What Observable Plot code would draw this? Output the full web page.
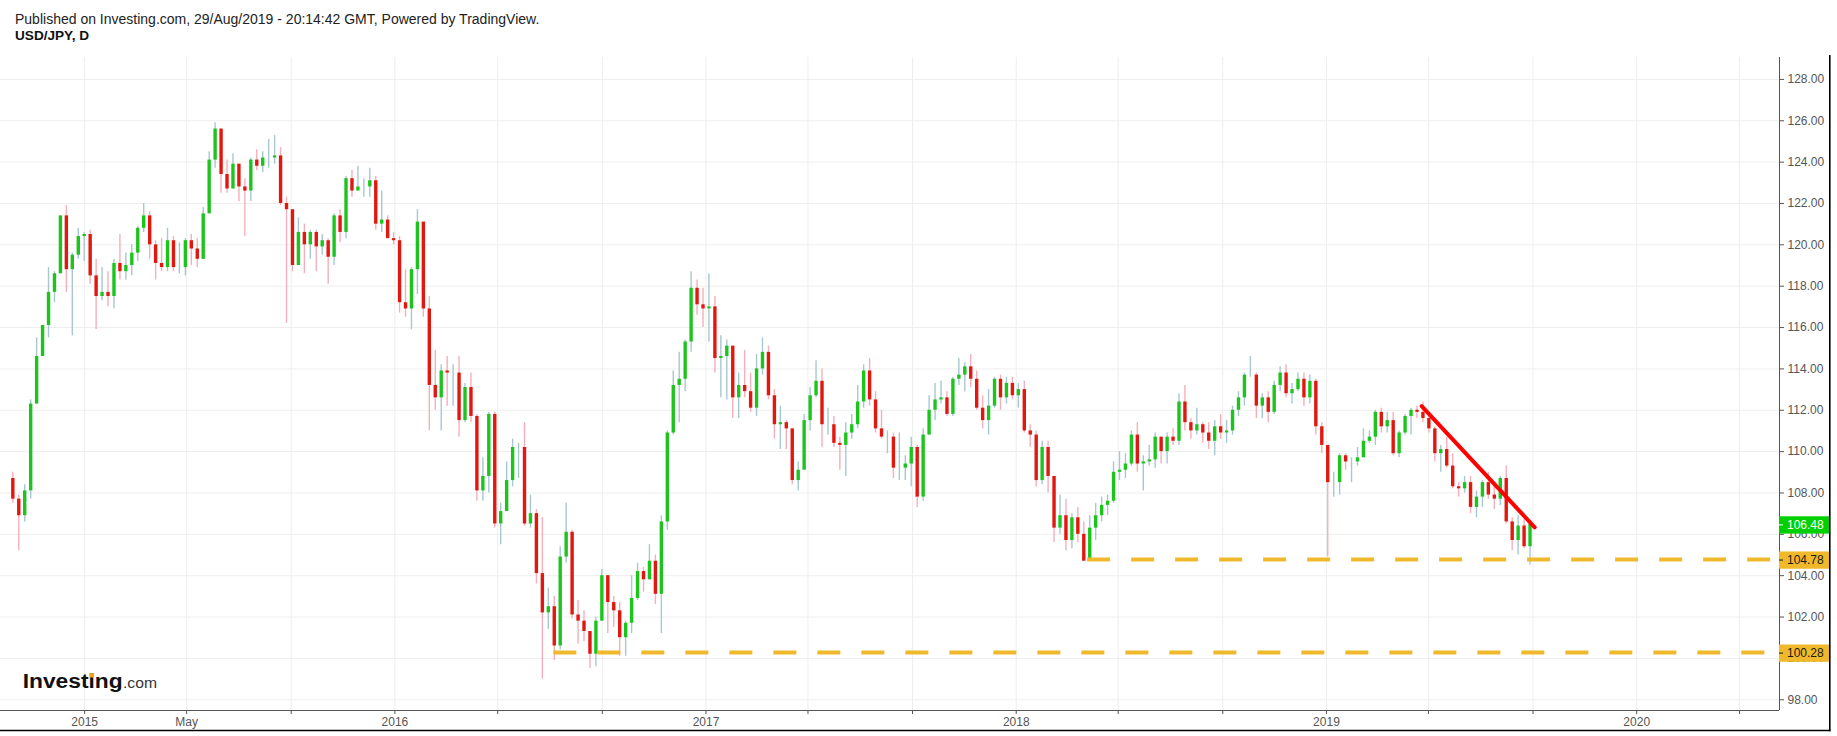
<!DOCTYPE html>
<html>
<head>
<meta charset="utf-8">
<script src="https://cdn.jsdelivr.net/npm/d3@7"></script>
<script src="https://cdn.jsdelivr.net/npm/@observablehq/plot@0.6"></script>
<style>
  html, body { margin: 0; padding: 0; background: #fff; }
  #wrap { position: relative; width: 1837px; height: 736px; overflow: hidden; font-family: "Liberation Sans", Arial, sans-serif; }
  #chart { position: absolute; left: 0; top: 0; }
  .hdr { position: absolute; left: 15px; font-size: 14px; line-height: 16px; color: #222; white-space: nowrap; }
</style>
</head>
<body>
<div id="wrap">
  <div id="chart"></div>
  <div class="hdr" style="top:11px">Published on Investing.com, 29/Aug/2019 - 20:14:42 GMT, Powered by TradingView.</div>
  <div class="hdr" style="top:28px;font-weight:bold;color:#111;font-size:13.6px">USD/JPY, D</div>
</div>
<script>
// ---------------- data (weekly candles) ----------------
const firstWeekStart = "2014-10-06";
const firstOpen = 108.7;

const weekClose = [
  // 2014 (Oct 6 .. Dec 29)
  107.7, 106.9, 108.1, 112.3, 114.6, 116.1, 117.7, 118.6, 121.4, 118.8, 119.5, 120.4, 120.5,
  // 2015
  118.5, 117.5, 117.7, 117.5, 119.1, 118.7, 119.0, 119.6, 120.8, 121.4, 120.0, 119.1, 118.9,
  120.2, 118.9, 118.9, 120.2, 119.8, 119.3, 121.5, 124.1, 125.6, 123.4, 122.7, 123.9, 122.8,
  122.6, 124.1, 123.8, 124.2, 124.2, 124.3, 122.0, 121.7, 119.0, 120.6, 120.0, 120.6, 119.9,
  120.2, 119.4, 121.4, 120.6, 123.2, 122.6, 122.8, 122.8, 123.1, 121.0, 121.2, 120.3, 120.2,
  // 2016
  117.2, 116.9, 118.8, 121.1, 116.9, 113.2, 112.6, 113.9, 113.8, 113.8, 111.5, 113.1, 111.7,
  108.1, 108.8, 111.8, 106.5, 107.1, 108.6, 110.2, 110.2, 106.5, 107.0, 104.1, 102.2, 102.5,
  100.6, 104.9, 106.1, 102.1, 101.8, 101.3, 100.2, 101.8, 104.0, 102.7, 102.3, 101.0, 101.7,
  102.9, 104.2, 103.8, 104.7, 103.1, 106.6, 110.9, 113.2, 113.5, 115.3, 117.9, 117.1, 116.9,
  // 2017
  117.0, 114.5, 114.6, 115.1, 112.6, 113.2, 112.9, 112.1, 114.0, 114.8, 112.7, 111.3, 111.4,
  111.1, 108.6, 109.1, 111.5, 112.7, 113.4, 111.3, 111.3, 110.4, 110.3, 110.9, 111.3, 112.4,
  113.9, 112.5, 111.1, 110.7, 110.7, 109.2, 109.2, 109.4, 110.2, 107.8, 110.8, 112.0, 112.5,
  112.6, 111.8, 113.5, 113.7, 114.1, 113.5, 112.1, 111.5, 112.2, 113.5, 112.6, 113.3, 112.7,
  // 2018
  113.0, 111.0, 110.8, 108.6, 110.2, 108.8, 106.3, 106.9, 105.7, 106.8, 106.0, 104.7, 106.3,
  106.9, 107.4, 107.6, 109.0, 109.1, 109.4, 110.8, 109.4, 109.5, 109.6, 110.7, 110.0, 110.7,
  110.5, 112.4, 111.4, 111.0, 111.3, 110.9, 110.5, 111.2, 110.9, 111.0, 112.0, 112.6, 113.7,
  113.7, 112.2, 112.6, 111.9, 113.2, 113.8, 112.8, 113.0, 113.5, 112.6, 113.4, 111.2, 110.3, 108.5,
  // 2019 (Jan 7 .. Aug 26)
  108.5, 109.8, 109.5, 109.5, 109.7, 110.5, 110.7, 111.9, 111.2, 111.5, 109.9, 110.9,
  111.7, 112.0, 111.9, 111.6, 111.1, 109.9, 110.1, 109.3, 108.3, 108.2, 108.5, 107.3, 107.8,
  108.5, 107.9, 107.7, 108.7, 106.6, 105.7, 106.4, 105.4, 106.48
];

const weekHigh = [
  // 2014
  109.0, 107.9, 108.4, 112.5, 115.5, 116.1, 118.9, 118.7, 121.4, 121.9, 119.6, 120.8, 120.6,
  // 2015
  120.7, 119.3, 118.9, 118.7, 119.3, 120.5, 119.6, 120.0, 120.9, 122.0, 121.6, 120.2, 120.3,
  120.8, 120.4, 120.1, 120.3, 120.5, 120.3, 121.8, 124.5, 125.9, 125.0, 124.1, 124.4, 123.9,
  123.2, 124.2, 124.6, 124.5, 125.1, 125.3, 124.7, 122.3, 121.7, 121.3, 121.0, 120.7, 120.7,
  120.5, 120.3, 121.5, 121.7, 123.3, 123.6, 123.8, 123.2, 123.7, 123.3, 122.6, 121.4, 120.6,
  // 2016
  120.4, 118.8, 118.9, 121.7, 121.0, 117.5, 114.9, 114.2, 114.6, 114.2, 114.6, 113.3, 113.8,
  111.8, 109.7, 111.9, 111.9, 107.5, 109.5, 110.6, 110.4, 111.4, 107.9, 107.2, 106.8, 103.4,
  103.0, 105.4, 107.5, 106.2, 102.8, 102.3, 101.3, 102.0, 104.3, 104.0, 103.0, 102.7, 101.8,
  104.0, 104.6, 104.4, 105.5, 105.0, 106.9, 111.0, 113.9, 114.8, 115.4, 118.7, 118.3, 117.9,
  // 2017
  118.6, 117.5, 115.6, 115.4, 115.1, 113.8, 114.9, 113.8, 114.7, 115.5, 115.1, 113.0, 112.2,
  111.5, 111.1, 109.5, 111.8, 113.1, 114.4, 114.0, 112.1, 111.7, 110.7, 111.4, 111.8, 113.2,
  114.2, 114.5, 112.9, 112.0, 111.0, 110.9, 110.9, 109.8, 110.7, 110.3, 111.1, 112.7, 113.3,
  113.4, 112.9, 113.6, 114.5, 114.3, 114.7, 113.9, 112.7, 113.0, 113.6, 113.7, 113.6, 113.6,
  // 2018
  113.3, 113.4, 111.3, 111.0, 110.5, 110.5, 108.8, 107.9, 107.7, 107.0, 107.3, 106.6, 106.9,
  107.5, 107.8, 107.9, 109.5, 110.0, 109.9, 111.0, 111.4, 109.8, 110.3, 110.9, 110.7, 110.9,
  111.1, 112.8, 113.2, 111.6, 112.1, 111.4, 111.4, 111.5, 111.8, 111.5, 112.2, 112.9, 113.8,
  114.6, 113.8, 112.8, 112.9, 113.4, 114.1, 114.2, 113.3, 113.8, 113.8, 113.7, 113.5, 111.4, 110.3,
  // 2019
  109.0, 109.9, 109.9, 109.7, 110.2, 111.1, 111.0, 112.0, 112.1, 111.9, 111.9, 111.0,
  111.8, 112.1, 112.2, 112.4, 111.7, 111.2, 110.3, 110.7, 109.9, 108.5, 108.8, 108.8, 108.1,
  108.6, 109.0, 108.4, 108.8, 109.3, 106.8, 106.9, 106.7, 106.6
];

const weekLow = [
  // 2014
  107.5, 105.2, 106.6, 107.7, 112.3, 114.6, 115.5, 117.2, 118.6, 117.7, 115.6, 119.3, 119.2,
  // 2015
  118.1, 115.9, 117.3, 117.0, 116.9, 118.3, 118.3, 118.5, 119.2, 120.6, 119.3, 118.3, 118.7,
  118.7, 118.7, 118.6, 118.5, 119.0, 118.9, 119.3, 121.5, 123.7, 122.5, 122.5, 122.7, 122.1,
  120.4, 122.1, 123.6, 123.5, 123.7, 123.9, 121.9, 116.2, 118.7, 119.0, 118.6, 119.3, 118.7,
  119.5, 118.1, 119.0, 120.1, 120.3, 122.3, 122.8, 122.3, 122.3, 120.7, 120.6, 120.3, 120.0,
  // 2016
  116.7, 116.5, 115.9, 117.6, 116.5, 111.0, 112.0, 111.0, 112.2, 112.2, 110.7, 111.4, 111.4,
  107.6, 107.6, 108.0, 106.3, 105.5, 107.1, 108.3, 108.7, 106.4, 106.3, 103.6, 99.0, 101.4,
  99.9, 100.4, 104.6, 101.9, 100.7, 100.8, 99.5, 99.6, 101.8, 101.2, 101.5, 100.1, 100.1,
  101.2, 102.8, 103.2, 103.8, 102.6, 101.2, 106.2, 110.8, 111.4, 112.9, 114.8, 116.6, 116.0,
  // 2017
  115.3, 113.8, 112.6, 112.5, 111.6, 111.6, 112.6, 111.9, 111.7, 113.7, 112.5, 110.6, 110.1,
  110.1, 108.4, 108.1, 109.1, 111.0, 112.6, 110.2, 110.8, 110.2, 109.1, 108.8, 110.6, 111.1,
  112.1, 112.2, 110.9, 110.6, 109.9, 108.7, 108.6, 108.6, 108.3, 107.3, 107.6, 110.8, 111.5,
  112.3, 111.7, 111.7, 113.2, 112.9, 113.1, 112.0, 111.1, 110.8, 112.1, 112.0, 112.3, 112.5,
  // 2018
  112.1, 110.9, 110.2, 108.3, 108.4, 108.0, 105.6, 106.0, 105.2, 105.3, 105.6, 104.7, 104.7,
  105.7, 106.6, 106.9, 107.5, 108.6, 108.7, 109.3, 109.0, 108.1, 109.3, 109.2, 109.4, 109.4,
  110.3, 110.3, 111.0, 110.6, 110.8, 110.4, 110.1, 109.8, 110.6, 110.4, 110.8, 111.7, 112.2,
  113.6, 111.6, 111.6, 111.4, 111.8, 112.9, 112.6, 112.3, 112.9, 112.2, 112.3, 110.8, 109.9, 104.9,
  // 2019
  107.8, 107.9, 109.1, 108.5, 109.3, 109.7, 110.4, 110.3, 110.9, 110.9, 109.8, 109.7,
  110.8, 110.8, 111.6, 111.4, 110.9, 109.5, 109.0, 109.2, 108.2, 107.8, 108.0, 107.0, 106.8,
  107.3, 107.7, 107.2, 107.4, 106.5, 105.2, 105.0, 105.3, 104.5
];

// support levels drawn as dashed lines
const levelValues = [104.78, 100.28];
const levelStarts = ["2018-03-26", "2016-07-06"];

// falling trend line
const trendDates = ["2019-04-23", "2019-09-03"];
const trendValues = [112.2, 106.34];

// last price
const lastPrice = 106.48;

// axis ticks
const yTickValues = [98, 100, 102, 104, 106, 108, 110, 112, 114, 116, 118, 120, 122, 124, 126, 128];
const xTickDates = ["2015-01-01","2015-05-01","2015-09-01","2016-01-01","2016-05-01","2016-09-01",
  "2017-01-01","2017-05-01","2017-09-01","2018-01-01","2018-05-01","2018-09-01",
  "2019-01-01","2019-05-01","2019-09-01","2020-01-01","2020-05-01"];
const xTickLabels = ["2015","May","","2016","","","2017","","","2018","","","2019","","","2020",""];

// ---------------- build tables ----------------
const DAY = 864e5;
const candles = weekClose.map((c, i) => {
  const start = Date.parse(firstWeekStart) + i * 7 * DAY;
  return {
    date: new Date(start + 2.5 * DAY),
    open: i === 0 ? firstOpen : weekClose[i - 1],
    high: weekHigh[i],
    low: weekLow[i],
    close: c
  };
});
const levels = levelValues.map((v, i) => ({value: v, start: new Date(levelStarts[i])}));
const trend = trendDates.map((d, i) => ({date: new Date(d), value: trendValues[i]}));
const xTicks = xTickDates.map(d => new Date(d));
const labelMap = new Map(xTicks.map((d, i) => [+d, xTickLabels[i]]));

const xDomain = [new Date("2014-09-24"), new Date("2020-06-17")];
const yDomain = [97.48, 129.06];

const UP = "#1ec41e", DOWN = "#e0180f", UPW = "#a7c8d1", DOWNW = "#f3b0ba";
const GOLD = "#f0b92c";

const chart = Plot.plot({
  width: 1837,
  height: 736,
  marginTop: 57,
  marginBottom: 26,
  marginLeft: 0,
  marginRight: 58,
  style: {fontFamily: "'Liberation Sans', Arial, sans-serif", fontSize: "12px", background: "transparent", overflow: "visible"},
  x: {type: "utc", domain: xDomain},
  y: {domain: yDomain},
  marks: [
    Plot.gridY(yTickValues, {stroke: "#eeeeee", strokeOpacity: 1}),
    Plot.gridX(xTicks, {stroke: "#eeeeee", strokeOpacity: 1}),
    Plot.ruleX(candles, {x: "date", y1: "low", y2: "high",
      stroke: d => d.close >= d.open ? UPW : DOWNW, strokeWidth: 1.4}),
    Plot.ruleX(candles, {x: "date", y1: "open", y2: "close",
      stroke: d => d.close >= d.open ? UP : DOWN, strokeWidth: 3.4}),
    Plot.ruleY(levels, {y: "value", x1: "start", x2: () => xDomain[1],
      stroke: GOLD, strokeWidth: 4, strokeDasharray: "23,21"}),
    Plot.line(trend, {x: "date", y: "value", stroke: "#ff0000", strokeWidth: 4}),
    Plot.ruleX([xDomain[1]], {stroke: "#555"}),
    Plot.ruleY([yDomain[0]], {stroke: "#555"}),
    Plot.axisY(yTickValues, {anchor: "right", tickSize: 4, tickPadding: 4,
      tickFormat: d => d.toFixed(2), fontSize: 12, color: "#555"}),
    Plot.axisX(xTicks, {anchor: "bottom", tickSize: 4, tickPadding: 3,
      tickFormat: d => labelMap.get(+d) ?? "", fontSize: 12, color: "#555"})
  ]
});
document.getElementById("chart").appendChild(chart);

// ---------------- price labels on the right axis, placed with the plot's scales ----------------
const svg = d3.select(chart);
const ys = chart.scale("y");
const xs = chart.scale("x");
const axisX = xs.apply(xDomain[1]);
const boxes = [
  {v: lastPrice, bg: "#00d000", fg: "#ffffff"},
  ...levelValues.map(v => ({v, bg: GOLD, fg: "#1a1a1a"}))
];
const g = svg.append("g").attr("text-anchor", "start");
for (const b of boxes) {
  const cy = ys.apply(b.v) + 1;
  g.append("rect").attr("x", axisX).attr("y", cy - 8.6).attr("width", 50.5).attr("height", 17.3).attr("fill", b.bg);
  g.append("line").attr("x1", axisX).attr("x2", axisX + 4).attr("y1", cy).attr("y2", cy).attr("stroke", b.fg);
  g.append("text").attr("x", axisX + 8).attr("y", cy).attr("dy", "0.35em").attr("text-anchor", "start")
    .attr("font-size", 12).attr("fill", b.fg).text(b.v.toFixed(2));
}

// outer frame lines
const y0 = ys.apply(yDomain[0]);
const yTop = ys.apply(yDomain[1]);
g.append("line").attr("x1", 0).attr("x2", 1830.5).attr("y1", y0 + 20.5).attr("y2", y0 + 20.5).attr("stroke", "#000").attr("stroke-width", 1.6);
g.append("line").attr("x1", 1829.8).attr("x2", 1829.8).attr("y1", yTop - 2).attr("y2", y0 + 21.3).attr("stroke", "#000").attr("stroke-width", 1.6);

// Investing.com logo
const logo = svg.append("g").attr("text-anchor", "start");
const word = logo.append("text").attr("x", 22.7).attr("y", 688.3).attr("font-size", 20).attr("font-weight", "bold")
  .attr("text-anchor", "start").attr("fill", "#111").attr("textLength", 100).attr("lengthAdjust", "spacingAndGlyphs").text("Investing");
logo.append("text").attr("x", 123).attr("y", 688.3).attr("font-size", 14.5).attr("text-anchor", "start")
  .attr("fill", "#333").attr("textLength", 34).attr("lengthAdjust", "spacingAndGlyphs").text(".com");
let dotX = 93.5;
try {
  const n = word.node();
  const p0 = n.getStartPositionOfChar(6), p1 = n.getEndPositionOfChar(6);
  dotX = (p0.x + p1.x) / 2;
} catch (e) {}
logo.append("rect").attr("x", dotX - 2.3).attr("y", 688.3 - 15.2).attr("width", 4.6).attr("height", 4.4).attr("fill", "#f5a31f");
</script>
</body>
</html>
